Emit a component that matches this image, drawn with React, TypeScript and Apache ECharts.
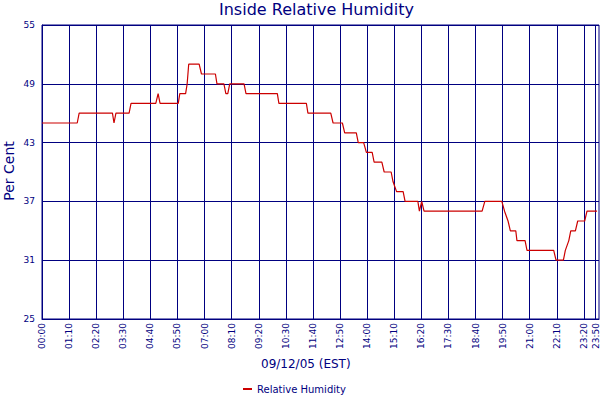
import React, { useEffect, useRef } from "react";
import * as echarts from "echarts";

const TITLE = "Inside Relative Humidity";
const X_NAME = "09/12/05 (EST)";
const Y_NAME = "Per Cent";
const SERIES_NAME = "Relative Humidity";

// minutes after midnight at which the reading changes
const times = [
  0, 91, 96, 182, 186, 191, 225, 230, 294, 300, 305, 352, 356, 371, 375, 379,
  406, 412, 448, 452, 470, 475, 480, 485, 522, 527, 608, 612, 683, 687, 746,
  752, 776, 782, 812, 817, 831, 838, 853, 858, 878, 884, 902, 907, 916, 933,
  938, 971, 975, 981, 987, 1137, 1144, 1188, 1195, 1204, 1210, 1224, 1227,
  1248, 1253, 1322, 1328, 1347, 1352, 1361, 1366, 1378, 1384, 1402, 1408, 1434,
];
const humidity = [
  45, 45, 46, 46, 45, 46, 46, 47, 47, 48, 47, 47, 48, 48, 49, 51,
  51, 50, 50, 49, 49, 48, 48, 49, 49, 48, 48, 47, 47, 46, 46,
  45, 45, 44, 44, 43, 43, 42, 42, 41, 41, 40, 40, 39, 38, 38,
  37, 37, 36, 37, 36, 36, 37, 37, 36, 35, 34, 34, 33,
  33, 32, 32, 31, 31, 32, 33, 34, 34, 35, 35, 36, 36,
];
const xTickMinutes = [
  0, 70, 140, 210, 280, 350, 420, 490, 560, 630, 700, 770, 840, 910, 980,
  1050, 1120, 1190, 1260, 1330, 1400, 1430,
];
const yMin = 25;
const yMax = 55;
const yStep = 6;

const NAVY = "#000080";
const FONT = "DejaVu Sans";

function fmt(v: number): string {
  const h = Math.floor(v / 60);
  const m = Math.round(v % 60);
  return String(h).padStart(2, "0") + ":" + String(m).padStart(2, "0");
}

export default function App() {
  const ref = useRef<HTMLDivElement>(null);
  useEffect(() => {
    if (!ref.current) return;
    const chart = echarts.init(ref.current, undefined, { renderer: "svg" });
    const data = times.map((t, i) => [t, humidity[i]]);
    chart.setOption({
      animation: false,
      backgroundColor: "#ffffff",
      title: [
        {
          text: TITLE,
          left: 219,
          top: 1,
          padding: 0,
          textStyle: { color: NAVY, fontFamily: FONT, fontSize: 16, fontWeight: "normal" },
        },
        {
          text: X_NAME,
          left: 261,
          top: 358,
          padding: 0,
          textStyle: { color: NAVY, fontFamily: FONT, fontSize: 12, fontWeight: "normal" },
        },
      ],
      graphic: [
        {
          type: "text",
          x: 2,
          y: 171,
          rotation: Math.PI / 2,
          style: {
            text: Y_NAME,
            fill: NAVY,
            fontFamily: FONT,
            fontSize: 14,
            textAlign: "center",
            textVerticalAlign: "top",
          },
        },
      ],
      legend: {
        data: [SERIES_NAME],
        left: 243,
        top: 384,
        padding: 0,
        icon: "rect",
        itemWidth: 9,
        itemHeight: 2,
        textStyle: { color: NAVY, fontFamily: FONT, fontSize: 10 },
      },
      grid: {
        left: 42,
        right: 1,
        top: 25,
        bottom: 81,
        outerBoundsMode: "none",
        containLabel: false,
        show: true,
        borderColor: NAVY,
        borderWidth: 1,
        backgroundColor: "transparent",
      },
      xAxis: {
        type: "value",
        min: 0,
        max: 1439,
        axisLine: { show: true, lineStyle: { color: NAVY, width: 1 } },
        axisTick: { show: false, customValues: xTickMinutes },
        splitLine: { show: true, lineStyle: { color: NAVY, width: 1 } },
        axisLabel: {
          customValues: xTickMinutes,
          rotate: 90,
          margin: 4,
          color: NAVY,
          fontFamily: FONT,
          fontSize: 9,
          formatter: (v: number) => fmt(v),
        },
      },
      yAxis: {
        type: "value",
        min: yMin,
        max: yMax,
        interval: yStep,
        offset: 2,
        axisLine: { show: true, lineStyle: { color: NAVY, width: 1 } },
        axisTick: { show: false },
        splitLine: { show: true, lineStyle: { color: NAVY, width: 1 } },
        axisLabel: { color: NAVY, fontFamily: FONT, fontSize: 9, margin: 5 },
      },
      series: [
        {
          name: SERIES_NAME,
          type: "line",
          data,
          symbol: "none",
          lineStyle: { color: "#cc0000", width: 1.2 },
          itemStyle: { color: "#cc0000" },
        },
      ],
    });
    return () => chart.dispose();
  }, []);
  return (
    <div
      ref={ref}
      style={{ position: "fixed", left: 0, top: 0, width: 600, height: 400 }}
    />
  );
}
